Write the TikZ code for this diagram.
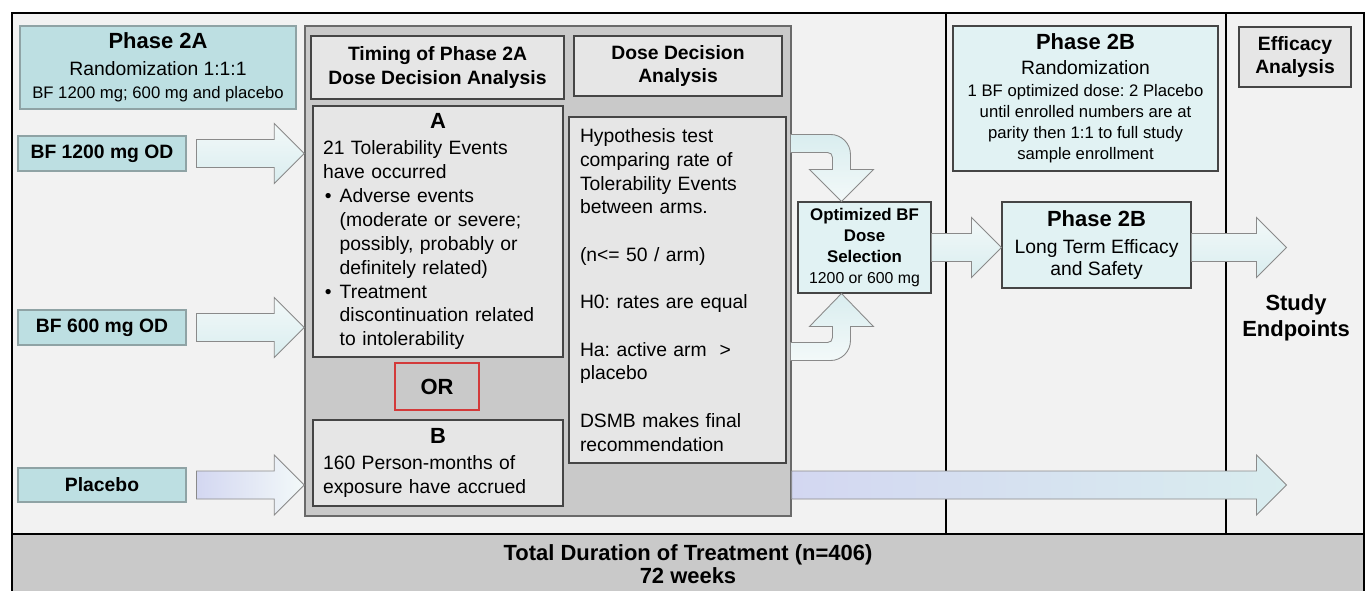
\documentclass[tikz,border=0pt]{standalone}
\usepackage{fontspec}
\setmainfont{Liberation Sans}
\usetikzlibrary{calc}
\frenchspacing

\definecolor{panelgrey}{HTML}{F2F2F2}
\definecolor{bandgrey}{HTML}{C9C9C9}
\definecolor{tealfill}{HTML}{BDDFE2}
\definecolor{tealline}{HTML}{8FA3A5}
\definecolor{icefill}{HTML}{E1F2F3}
\definecolor{boxgrey}{HTML}{E6E6E6}
\definecolor{darkline}{HTML}{454545}
\definecolor{orred}{HTML}{D33A3A}
\definecolor{arrowline}{HTML}{8A8A8A}
\definecolor{arrowice}{HTML}{D9EDEF}
\definecolor{arrowwhite}{HTML}{F3F9F9}
\definecolor{arrowlav}{HTML}{D3D7F1}

\newcommand{\itembul}{\makebox[9.5pt][l]{\hspace{1pt}\textbullet}}
\newcommand{\itemind}{\hspace*{9.5pt}}
\newcommand{\bighead}{\fontsize{12.5}{15}\selectfont\bfseries}
\newcommand{\fatarrow}[3][]{%
  \draw[fatarrow,#1] ($(#2)+(0,-14)$) -- ($(#3)+(-30,-14)$) -- ($(#3)+(-30,-30)$) -- (#3)
    -- ($(#3)+(-30,30)$) -- ($(#3)+(-30,14)$) -- ($(#2)+(0,14)$) -- cycle;}

\tikzset{
  px/.style={x=0.02cm,y=-0.02cm},
  wh/.style args={#1x#2}{minimum width=#1*0.02cm,minimum height=#2*0.02cm,inner sep=0pt},
  armbox/.style={draw=tealline,fill=tealfill,line width=0.6pt,font=\bfseries\fontsize{11}{13}\selectfont},
  phasebox/.style={draw=tealline,fill=tealfill,line width=0.6pt,align=center,font=\fontsize{11}{13}\selectfont},
  greybox/.style={draw=darkline,fill=boxgrey,line width=0.6pt},
  icebox/.style={draw=darkline,fill=icefill,line width=0.6pt,align=center},
  fatarrow/.style={draw=arrowline,line width=0.5pt,top color=arrowwhite,bottom color=arrowice},
}

\begin{document}
\begin{tikzpicture}[px]
		%%%%% START %%%%%
		\useasboundingbox[fill=white] (0,0) rectangle (1365,591);
		
		\draw[fill=panelgrey,line width=1.2pt] (12,13) rectangle (1364,534);
		\node[draw,line width=1.2pt,fill=bandgrey,wh=1352x61,align=center,font=\bfseries\fontsize{12.5}{13}\selectfont] (band) at (688,564.5) {Total Duration of Treatment (n=406)\\72 weeks};
		
		\draw[line width=1.4pt] (946,13) -- (946,534);
		\draw[line width=1.4pt] (1226,13) -- (1226,534);
		
		% phase 2A dose decision block
		\node[draw=darkline!80,fill=bandgrey,line width=0.8pt,wh=486x490] (analysis) at (548,271) {};
		\node[greybox,wh=253x63,align=center,font=\bfseries\fontsize{11}{13.3}\selectfont] (timing) at (437.5,67.5) {Timing of Phase 2A\\Dose Decision Analysis};
		\node[greybox,wh=208x60,align=center,font=\bfseries\fontsize{11}{13.3}\selectfont] (dosehead) at (678,66) {Dose Decision\\Analysis};
		\node[greybox,wh=250x251,text width=4.6cm,align=left,font=\fontsize{11}{13.6}\selectfont] (crita) at (438,231.5) {\makebox[\linewidth]{\bighead A}\\[1.5pt]
			21 Tolerability Events\\have occurred\\
			\itembul Adverse events\\\itemind(moderate or severe;\\\itemind possibly, probably or\\\itemind definitely related)\\
			\itembul Treatment\\\itemind discontinuation related\\\itemind to intolerability};
		\node[draw=orred,line width=0.8pt,wh=84x47,font=\bighead] (orbox) at (437,386.5) {OR};
		\node[greybox,wh=250x86,text width=4.6cm,align=left,font=\fontsize{11}{13.6}\selectfont] (critb) at (438,463) {\makebox[\linewidth]{\bighead B}\\[1pt]
			160 Person-months of\\exposure have accrued};
		\node[greybox,wh=217x346,text width=3.9cm,align=left,font=\fontsize{11}{13.5}\selectfont] (hyptest) at (677.5,290) {Hypothesis test\\comparing rate of\\Tolerability Events\\between arms.\\[13.5pt]
			(n<= 50 / arm)\\[13.5pt]
			H0: rates are equal\\[13.5pt]
			Ha: active arm\ \ >\\placebo\\[13.5pt]
			DSMB makes final\\recommendation};
		
		% arms
		\node[phasebox,wh=276x83] (phasea) at (158,67.5) {{\bighead Phase 2A}\\[2pt]Randomization 1:1:1\\[0.5pt]{\fontsize{9.5}{11}\selectfont BF 1200 mg; 600 mg and placebo}};
		\node[armbox,wh=168x35] (bfhigh) at (102,153.5) {BF 1200 mg OD};
		\node[armbox,wh=168x35] (bflow) at (102,327.5) {BF 600 mg OD};
		\node[armbox,wh=168x34] (placebo) at (102,485) {Placebo};
		
		\coordinate (hs) at ($(bfhigh.east)+(10,0)$);
		\coordinate (ht) at (bfhigh.east -| analysis.west);
		\coordinate (ls) at ($(bflow.east)+(10,0)$);
		\coordinate (lt) at (bflow.east -| analysis.west);
		\coordinate (ps) at ($(placebo.east)+(10,0)$);
		\coordinate (pt) at (placebo.east -| analysis.west);
		\fatarrow{hs}{ht}
		\fatarrow{ls}{lt}
		\fatarrow[left color=arrowlav,right color=arrowwhite]{ps}{pt}
		
		% optimized dose selection
		\node[icebox,wh=133x91,font=\bfseries\fontsize{9.6}{12}\selectfont] (optdose) at (864.5,247.5) {Optimized BF\\Dose\\Selection\\{\mdseries\fontsize{9}{11}\selectfont 1200 or 600 mg}};
		\coordinate (toptip) at ($(optdose.north west)+(44,0)$);
		\coordinate (bottip) at ($(optdose.south west)+(44,0)$);
		\begin{scope}[shift={(toptip)}]
			\draw[fatarrow,top color=arrowice,bottom color=arrowwhite] (-51,-67) -- (-11,-67) .. controls (0,-67) and (9,-58) .. (9,-47) -- (9,-32) -- (32,-32) -- (0,0) -- (-32,-32) -- (-9,-32) -- (-9,-44) .. controls (-9,-47) and (-11,-49) .. (-14,-49) -- (-51,-49) -- cycle;
		\end{scope}
		\begin{scope}[shift={(bottip)},yscale=-1]
			\draw[fatarrow,top color=arrowice,bottom color=arrowwhite] (-51,-67) -- (-11,-67) .. controls (0,-67) and (9,-58) .. (9,-47) -- (9,-33) -- (32,-33) -- (0,0) -- (-32,-33) -- (-9,-33) -- (-9,-44) .. controls (-9,-47) and (-11,-49) .. (-14,-49) -- (-51,-49) -- cycle;
		\end{scope}
		
		% phase 2B
		\node[icebox,wh=265x145,font=\fontsize{9.5}{11.9}\selectfont] (phaseb) at (1085.5,98.5) {{\bighead Phase 2B}\\[2pt]{\fontsize{11}{13}\selectfont Randomization}\\[1pt]1 BF optimized dose: 2 Placebo\\until enrolled numbers are at\\parity then 1:1 to full study\\sample enrollment};
		\node[greybox,wh=112x60,align=center,font=\bfseries\fontsize{11}{13.6}\selectfont] (efficacy) at (1295,57) {Efficacy\\Analysis};
		\node[icebox,wh=189x86,font=\fontsize{11}{12.6}\selectfont] (longterm) at (1096.5,245) {{\bighead Phase 2B}\\[2.5pt]Long Term Efficacy\\and Safety};
		\node[align=center,font=\bighead] (endpoints) at (1296,318) {Study\\Endpoints};
		
		\coordinate (os) at (optdose.east);
		\coordinate (ot) at (optdose.east -| longterm.west);
		\coordinate (es) at (optdose.east -| longterm.east);
		\coordinate (et) at ($(es)+(95,0)$);
		\coordinate (qs) at (placebo.east -| analysis.east);
		\coordinate (qt) at (placebo.east -| et);
		\fatarrow{os}{ot}
		\fatarrow{es}{et}
		\fatarrow[left color=arrowlav,right color=arrowice]{qs}{qt}
		
		%%%%% END %%%%%
\end{tikzpicture}
\end{document}
